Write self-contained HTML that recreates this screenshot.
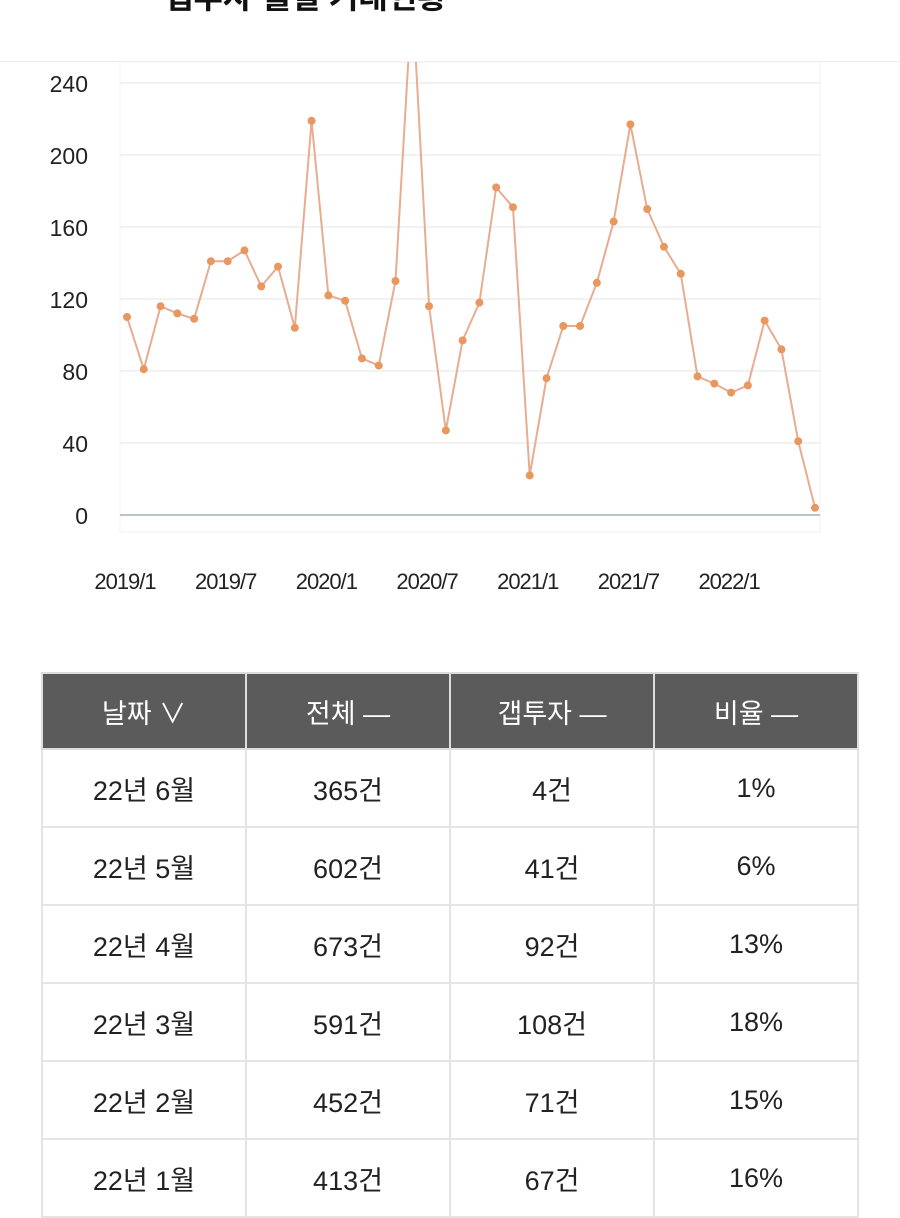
<!DOCTYPE html>
<html><head><meta charset="utf-8"><style>
body{margin:0;width:900px;height:1215px;overflow:hidden;background:#fff;font-family:"Liberation Sans","Noto Sans CJK KR",sans-serif;position:relative}
.title{position:absolute;left:164px;top:-28px;font-size:32px;font-weight:bold;color:#111;white-space:nowrap}
.back{position:absolute;left:48px;top:-24px;font-size:26px;color:#111}
.hr{position:absolute;left:0;top:61px;width:900px;height:1px;background:#eee}
table{position:absolute;left:41px;top:672px;border-collapse:collapse;width:818px;table-layout:fixed}
td,th{border:2px solid #e4e4e4;text-align:center;font-size:27px;font-weight:normal;height:74px;color:#222}
th{background:#5b5b5b;color:#fff;border-color:#ddd;height:72px}
</style></head><body>
<div class="back">‹</div>
<div class="title">갭투자 월별 거래현황</div>
<div class="hr"></div>
<svg id="chart" width="900" height="640" style="position:absolute;left:0;top:0"></svg>
<table>
<tr><th>날짜 ∨</th><th>전체 —</th><th>갭투자 —</th><th>비율 —</th></tr>
<tr><td>22년 6월</td><td>365건</td><td>4건</td><td>1%</td></tr>
<tr><td>22년 5월</td><td>602건</td><td>41건</td><td>6%</td></tr>
<tr><td>22년 4월</td><td>673건</td><td>92건</td><td>13%</td></tr>
<tr><td>22년 3월</td><td>591건</td><td>108건</td><td>18%</td></tr>
<tr><td>22년 2월</td><td>452건</td><td>71건</td><td>15%</td></tr>
<tr><td>22년 1월</td><td>413건</td><td>67건</td><td>16%</td></tr>
</table>
<script>
const values=[110,81,116,112,109,141,141,147,127,138,104,219,122,119,87,83,130,290,116,47,97,118,182,171,22,76,105,105,129,163,217,170,149,134,77,73,68,72,108,92,41,4];
const yTicks=[0,40,80,120,160,200,240];
const xLabels=["2019/1","2019/7","2020/1","2020/7","2021/1","2021/7","2022/1"];
const xLabelIdx=[0,6,12,18,24,30,36];
const NS="http://www.w3.org/2000/svg",svg=document.getElementById('chart');
const x0=127,dx=(815-127)/41,yBase=515,ky=1.8;
const X=i=>x0+i*dx, Y=v=>yBase-v*ky;
function mk(t,a){const e=document.createElementNS(NS,t);for(const k in a)e.setAttribute(k,a[k]);svg.appendChild(e);return e;}
const cp=document.createElementNS(NS,'clipPath');cp.setAttribute('id','c');const cr=document.createElementNS(NS,'rect');
cr.setAttribute('x',120);cr.setAttribute('y',62);cr.setAttribute('width',700);cr.setAttribute('height',470);cp.appendChild(cr);svg.appendChild(cp);
let f=mk('rect',{x:120,y:62,width:700,height:470,fill:'none',stroke:'#f0f0f0'});


yTicks.forEach(t=>{
 let g=mk('line',{x1:120,x2:820,y1:Y(t),y2:Y(t),stroke:t?'#eeeeee':'#b8c4c4','stroke-width':t?1.5:2});
 
 
 let l=mk('text',{x:88,y:Y(t)+9,'text-anchor':'end','font-size':23,fill:'#222','font-family':'Liberation Sans Narrow,Liberation Sans,sans-serif'});l.textContent=t;
 
 
});
xLabelIdx.forEach((i,k)=>{
 let l=mk('text',{x:X(i)-2,y:589,'text-anchor':'middle','font-size':22,fill:'#222','letter-spacing':'-1'});l.textContent=xLabels[k];
 
 
});
let p=mk('polyline',{points:values.map((v,i)=>X(i)+','+Y(v)).join(' '),fill:'none',stroke:'#e8ac90','stroke-width':2,'clip-path':'url(#c)'});


values.forEach((v,i)=>{
 let c=mk('circle',{cx:X(i),cy:Y(v),r:4,fill:'#e8975f','clip-path':'url(#c)'});
 
 
});
</script>
</body></html>
